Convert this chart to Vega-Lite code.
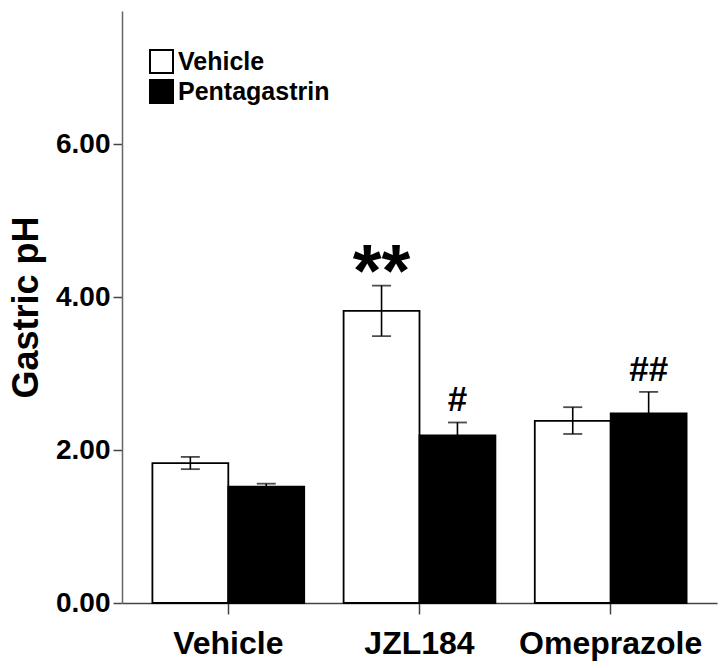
{
  "$schema": "https://vega.github.io/schema/vega-lite/v6.json",
  "width": 595,
  "height": 592,
  "autosize": "none",
  "padding": {"left": 122, "top": 11, "right": 4, "bottom": 65},
  "background": "white",
  "config": {
    "view": {"stroke": null},
    "font": "Liberation Sans",
    "axis": {"grid": false, "domainColor": "#666", "domainWidth": 1.5, "tickColor": "#444", "tickWidth": 1.5, "labelColor": "black", "titleColor": "black", "labelFont": "Liberation Sans", "titleFont": "Liberation Sans", "labelFontWeight": "bold", "titleFontWeight": "bold"}
  },
  "data": {
    "values": [
      {"group": "Vehicle", "treatment": "Vehicle", "mean": 1.83, "lo": 1.75, "hi": 1.91, "sig": ""},
      {"group": "Vehicle", "treatment": "Pentagastrin", "mean": 1.52, "lo": 1.48, "hi": 1.56, "sig": ""},
      {"group": "JZL184", "treatment": "Vehicle", "mean": 3.82, "lo": 3.49, "hi": 4.15, "sig": "**"},
      {"group": "JZL184", "treatment": "Pentagastrin", "mean": 2.19, "lo": 2.02, "hi": 2.36, "sig": "#"},
      {"group": "Omeprazole", "treatment": "Vehicle", "mean": 2.38, "lo": 2.21, "hi": 2.56, "sig": ""},
      {"group": "Omeprazole", "treatment": "Pentagastrin", "mean": 2.48, "lo": 2.2, "hi": 2.76, "sig": "##"}
    ]
  },
  "encoding": {
    "x": {
      "field": "group", "type": "nominal", "sort": ["Vehicle", "JZL184", "Omeprazole"],
      "scale": {"paddingInner": 0.206, "paddingOuter": 0.159},
      "axis": {"title": null, "labelAngle": 0, "labelFontSize": 32, "labelPadding": 14, "labelLimit": 0, "tickSize": 11, "domainColor": "#444"}
    },
    "xOffset": {"field": "treatment", "type": "nominal", "sort": ["Vehicle", "Pentagastrin"], "scale": {"paddingInner": 0, "paddingOuter": 0}}
  },
  "layer": [
    {
      "mark": {"type": "bar", "stroke": "black", "strokeWidth": 1.8},
      "encoding": {
        "y": {
          "field": "mean", "type": "quantitative",
          "scale": {"domain": [0, 7.74], "nice": false},
          "axis": {"title": "Gastric pH", "titleFontSize": 36, "titlePadding": 10, "values": [0, 2, 4, 6], "format": ".2f", "labelFontSize": 28, "labelPadding": 3, "tickSize": 9}
        },
        "fill": {
          "field": "treatment", "type": "nominal",
          "scale": {"domain": ["Vehicle", "Pentagastrin"], "range": ["white", "black"]},
          "legend": {
            "title": null, "orient": "none", "legendX": 27, "legendY": 38,
            "symbolType": "square", "symbolSize": 529, "symbolStrokeColor": "black", "symbolStrokeWidth": 2,
            "labelFontSize": 25, "labelFont": "Liberation Sans", "labelFontWeight": "bold", "labelColor": "black",
            "labelOffset": 4, "rowPadding": -1, "padding": 0
          }
        }
      }
    },
    {
      "mark": {"type": "rule", "color": "black", "strokeWidth": 1.6},
      "encoding": {"y": {"field": "lo", "type": "quantitative"}, "y2": {"field": "hi"}}
    },
    {
      "mark": {"type": "tick", "color": "black", "size": 19, "thickness": 1.8},
      "encoding": {"y": {"field": "hi", "type": "quantitative"}}
    },
    {
      "mark": {"type": "tick", "color": "black", "size": 19, "thickness": 1.8},
      "encoding": {"y": {"field": "lo", "type": "quantitative"}}
    },
    {
      "transform": [{"filter": "datum.sig == '**'"}],
      "mark": {"type": "text", "font": "Liberation Sans", "fontWeight": "bold", "fontSize": 74, "baseline": "alphabetic", "dy": 10, "color": "black"},
      "encoding": {"y": {"field": "hi", "type": "quantitative"}, "text": {"field": "sig"}}
    },
    {
      "transform": [{"filter": "datum.sig == '#' || datum.sig == '##'"}],
      "mark": {"type": "text", "font": "Liberation Sans", "fontWeight": "bold", "fontSize": 35, "baseline": "alphabetic", "dy": -11, "color": "black"},
      "encoding": {"y": {"field": "hi", "type": "quantitative"}, "text": {"field": "sig"}}
    }
  ]
}
